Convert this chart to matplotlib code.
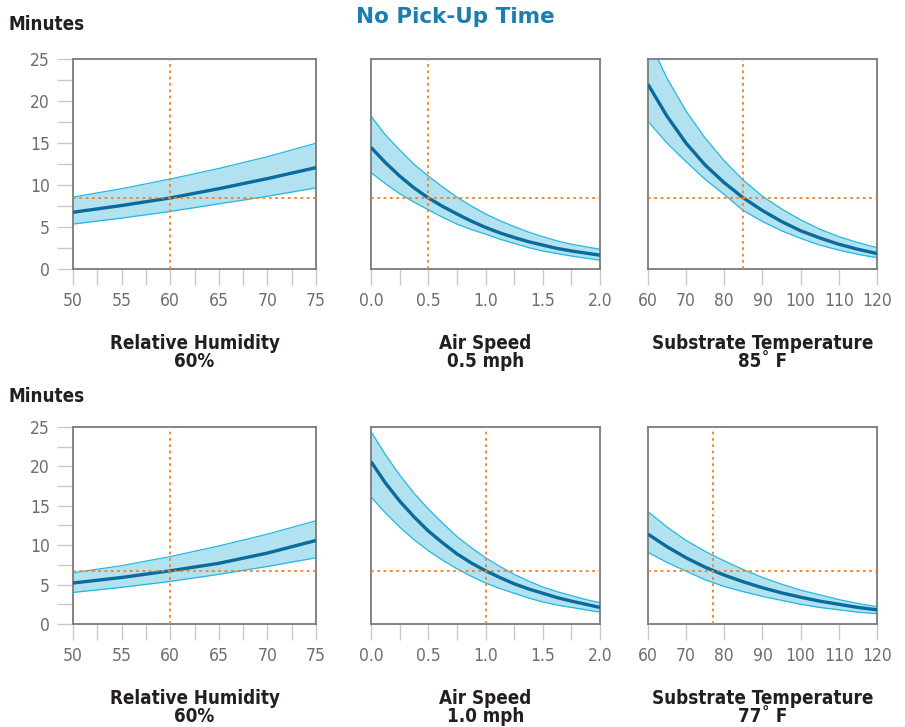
"""
No Pick-Up Time

Drying time vs humidity, air speed and substrate temperature.
"""

import matplotlib.pyplot as plt
from matplotlib.ticker import MultipleLocator

# ==========================================================
# Data
# ==========================================================

rh_x = [50, 55, 60, 65, 70, 75]
air_x = [0.0, 0.125, 0.25, 0.375, 0.5, 0.625, 0.75, 0.875, 1.0,
         1.125, 1.25, 1.375, 1.5, 1.625, 1.75, 1.875, 2.0]
temp_x = [60, 65, 70, 75, 80, 85, 90, 95, 100, 105, 110, 115, 120]

# top row: 60% RH, 0.5 mph, 85 F
rh1_mid = [6.8, 7.6, 8.5, 9.6, 10.8, 12.1]
rh1_hi = [8.6, 9.6, 10.75, 12.0, 13.4, 15.0]
rh1_lo = [5.4, 6.1, 6.9, 7.8, 8.7, 9.7]

air1_mid = [14.5, 12.7, 11.1, 9.7, 8.5, 7.5, 6.6, 5.75, 5.0, 4.35, 3.8, 3.3, 2.9, 2.5, 2.2, 1.95, 1.7]
air1_hi = [18.2, 16.0, 14.2, 12.5, 11.1, 9.8, 8.6, 7.55, 6.6, 5.8, 5.1, 4.45, 3.9, 3.4, 3.0, 2.7, 2.4]
air1_lo = [11.5, 10.2, 9.0, 8.0, 7.1, 6.2, 5.4, 4.75, 4.2, 3.6, 3.1, 2.6, 2.2, 1.9, 1.6, 1.35, 1.1]

temp1_mid = [22.0, 18.2, 15.0, 12.4, 10.3, 8.5, 7.0, 5.7, 4.6, 3.75, 3.0, 2.4, 1.9]
temp1_hi = [27.5, 22.7, 18.8, 15.6, 12.9, 10.6, 8.7, 7.2, 5.9, 4.8, 3.9, 3.2, 2.6]
temp1_lo = [17.6, 15.0, 12.8, 10.7, 8.9, 7.0, 5.7, 4.6, 3.7, 2.9, 2.3, 1.8, 1.4]

# bottom row: 60% RH, 1.0 mph, 77 F
rh2_mid = [5.2, 5.9, 6.75, 7.7, 9.0, 10.6]
rh2_hi = [6.5, 7.4, 8.55, 9.9, 11.4, 13.1]
rh2_lo = [4.0, 4.65, 5.4, 6.3, 7.3, 8.4]

air2_mid = [20.6, 17.9, 15.6, 13.6, 11.8, 10.3, 8.9, 7.75, 6.75, 5.9, 5.1, 4.45, 3.9, 3.35, 2.9, 2.5, 2.1]
air2_hi = [24.4, 21.5, 18.9, 16.6, 14.6, 12.8, 11.1, 9.7, 8.4, 7.3, 6.3, 5.45, 4.7, 4.1, 3.6, 3.1, 2.7]
air2_lo = [16.1, 14.1, 12.3, 10.7, 9.3, 8.1, 7.0, 6.05, 5.2, 4.5, 3.9, 3.3, 2.8, 2.4, 2.1, 1.8, 1.5]

temp2_mid = [11.4, 9.8, 8.4, 7.2, 6.2, 5.35, 4.6, 3.95, 3.4, 2.9, 2.5, 2.1, 1.8]
temp2_hi = [14.25, 12.3, 10.6, 9.2, 8.0, 6.9, 5.9, 5.05, 4.3, 3.7, 3.1, 2.6, 2.2]
temp2_lo = [9.1, 7.8, 6.7, 5.6, 4.75, 4.1, 3.5, 3.0, 2.5, 2.1, 1.8, 1.5, 1.3]

# reference points (x for each panel, y per row)
ref_x_top = [60, 0.5, 85]
ref_y_top = 8.5
ref_x_bot = [60, 1.0, 77]
ref_y_bot = 6.75

xlabels_top = ["Relative Humidity\n60%", "Air Speed\n0.5 mph", "Substrate Temperature\n85˚ F"]
xlabels_bot = ["Relative Humidity\n60%", "Air Speed\n1.0 mph", "Substrate Temperature\n77˚ F"]

# ==========================================================
# Style
# ==========================================================

plt.rcParams["font.family"] = ["DejaVu Sans"]
plt.rcParams["font.stretch"] = "condensed"

BAND = "#b2e1f0"
EDGE = "#22b8e3"
LINE = "#0a6b9c"
REF = "#f47f20"
SPINE = "#7a7a7a"
TICK = "#c9c9c9"
TXT_GRAY = "#6d6e71"

fig = plt.figure(figsize=(9.05, 7.27), dpi=100)

cols_x = [(0.0807, 0.2685), (0.410, 0.253), (0.716, 0.253)]
rows_y = [(0.6293, 0.2895), (0.1417, 0.271)]

panels = [
    [(rh_x, rh1_mid, rh1_hi, rh1_lo), (air_x, air1_mid, air1_hi, air1_lo), (temp_x, temp1_mid, temp1_hi, temp1_lo)],
    [(rh_x, rh2_mid, rh2_hi, rh2_lo), (air_x, air2_mid, air2_hi, air2_lo), (temp_x, temp2_mid, temp2_hi, temp2_lo)],
]
xlims = [(50, 75), (0, 2), (60, 120)]
xmajor = [5, 0.5, 10]
xminor = [2.5, 0.25, 10]
xfmt = ["{:.0f}", "{:.1f}", "{:.0f}"]
ref_xs = [ref_x_top, ref_x_bot]
ref_ys = [ref_y_top, ref_y_bot]
xlabels = [xlabels_top, xlabels_bot]

# ==========================================================
# Panels
# ==========================================================

for r in range(2):
    for c in range(3):
        left, width = cols_x[c]
        bottom, height = rows_y[r]
        ax = fig.add_axes([left, bottom, width, height])

        x, mid, hi, lo = panels[r][c]

        ax.fill_between(x, lo, hi, color=BAND, lw=0, zorder=1)
        ax.plot(x, hi, color=EDGE, lw=0.9, zorder=2)
        ax.plot(x, lo, color=EDGE, lw=0.9, zorder=2)
        ax.plot(x, mid, color=LINE, lw=2.4, zorder=3, solid_capstyle="butt")

        ax.axhline(ref_ys[r], color=REF, lw=1.3, ls=(0, (1.5, 2)), zorder=4)
        ax.axvline(ref_xs[r][c], color=REF, lw=1.3, ls=(0, (1.5, 2)), zorder=4)

        ax.set_xlim(*xlims[c])
        ax.set_ylim(0, 25)

        for s in ax.spines.values():
            s.set_color(SPINE)
            s.set_linewidth(1.3)

        ax.xaxis.set_major_locator(MultipleLocator(xmajor[c]))
        ax.xaxis.set_minor_locator(MultipleLocator(xminor[c]))
        ax.xaxis.set_major_formatter(plt.FuncFormatter(lambda v, p, f=xfmt[c]: f.format(v)))
        ax.tick_params(axis="x", which="both", length=11.5, width=1.0, color=TICK,
                       direction="out", pad=5, labelsize=12.5, labelcolor=TXT_GRAY)

        if c == 0:
            ax.yaxis.set_major_locator(MultipleLocator(5))
            ax.yaxis.set_minor_locator(MultipleLocator(2.5))
            ax.tick_params(axis="y", which="both", length=11.5, width=1.0, color=TICK,
                           direction="out", pad=5, labelsize=12.5, labelcolor=TXT_GRAY)
        else:
            ax.set_yticks([])
            ax.yaxis.set_minor_locator(plt.NullLocator())

        ax.set_xlabel(xlabels[r][c], fontsize=13.5, fontweight="bold", color="#231f20",
                      labelpad=17, linespacing=0.95)

# ==========================================================
# Titles
# ==========================================================

fig.text(0.503, 0.977, "No Pick-Up Time", ha="center", va="center",
         fontsize=15.5, fontweight="bold", color="#1a7fb0", fontstretch="normal")

fig.text(0.009, 0.966, "Minutes", ha="left", va="center",
         fontsize=13.5, fontweight="bold", color="#231f20")
fig.text(0.009, 0.455, "Minutes", ha="left", va="center",
         fontsize=13.5, fontweight="bold", color="#231f20")

plt.savefig("out.png", dpi=100)
